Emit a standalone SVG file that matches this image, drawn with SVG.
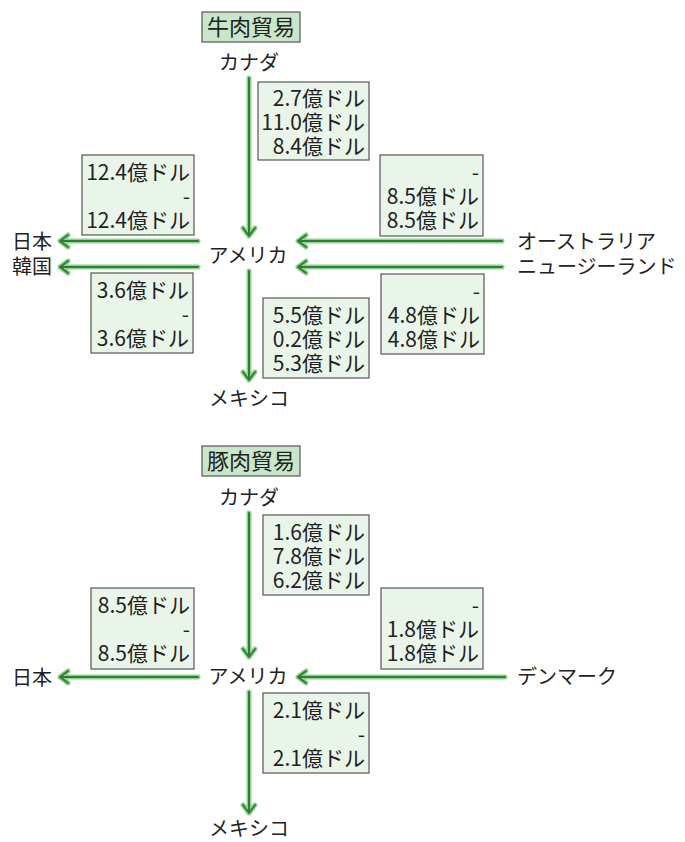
<svg xmlns="http://www.w3.org/2000/svg" width="685" height="842" viewBox="0 0 685 842">
<style>
text{font-family:"Noto Sans CJK JP","Noto Sans",sans-serif;font-size:20px;fill:#222}
.lbl{text-anchor:middle}
.st{text-anchor:start}
.tt{text-anchor:middle;font-size:22px}
.v{text-anchor:end;font-size:21px}
.title{fill:#c8e6c9;stroke:#555;stroke-width:1.2}
.box{fill:#eaf5ea;stroke:#555;stroke-width:1.2}
.halo{fill:none;stroke:#8fd18f;stroke-width:5;stroke-linecap:round;stroke-linejoin:round}
.line{fill:none;stroke:#2e7d32;stroke-width:2;stroke-linecap:round;stroke-linejoin:round}
</style>
<defs>
<path id="c1" d="M249 78V236M243 228L249 236L255 228"/>
<path id="c2" d="M198 241H60M68 235L60 241L68 247"/>
<path id="c3" d="M198 267H60M68 261L60 267L68 273"/>
<path id="c4" d="M502 241H298M306 235L298 241L306 247"/>
<path id="c5" d="M502 267H298M306 261L298 267L306 273"/>
<path id="c6" d="M249 271V380M243 372L249 380L255 372"/>
<path id="c7" d="M249 513V657M243 649L249 657L255 649"/>
<path id="c8" d="M198 677H60M68 671L60 677L68 683"/>
<path id="c9" d="M505 677H298M306 671L298 677L306 683"/>
<path id="c10" d="M249 692V813M243 805L249 813L255 805"/>
</defs>
<g id="connectors">
<use href="#c1" class="halo"/><use href="#c1" class="line"/>
<use href="#c2" class="halo"/><use href="#c2" class="line"/>
<use href="#c3" class="halo"/><use href="#c3" class="line"/>
<use href="#c4" class="halo"/><use href="#c4" class="line"/>
<use href="#c5" class="halo"/><use href="#c5" class="line"/>
<use href="#c6" class="halo"/><use href="#c6" class="line"/>
<use href="#c7" class="halo"/><use href="#c7" class="line"/>
<use href="#c8" class="halo"/><use href="#c8" class="line"/>
<use href="#c9" class="halo"/><use href="#c9" class="line"/>
<use href="#c10" class="halo"/><use href="#c10" class="line"/>
</g>
<!-- Beef -->
<g id="beef-title"><rect class="title" x="202" y="12" width="98" height="30"/><text class="tt" x="251" y="35">牛肉貿易</text></g>
<g id="beef-canada"><text class="lbl" x="249" y="70">カナダ</text></g>
<g id="beef-usa"><text class="lbl" x="248" y="263">アメリカ</text></g>
<g id="beef-japan"><text class="st" x="12" y="249">日本</text></g>
<g id="beef-korea"><text class="st" x="12" y="274">韓国</text></g>
<g id="beef-australia"><text class="st" x="517" y="249">オーストラリア</text></g>
<g id="beef-nz"><text class="st" x="517" y="274">ニュージーランド</text></g>
<g id="beef-mexico"><text class="lbl" x="249" y="406">メキシコ</text></g>
<g id="beef-box-canada"><rect class="box" x="258" y="82" width="111" height="78"/>
<text class="v" y="106"><tspan x="365">2.7億ドル</tspan><tspan x="365" dy="24">11.0億ドル</tspan><tspan x="365" dy="24">8.4億ドル</tspan></text></g>
<g id="beef-box-japan"><rect class="box" x="82" y="155" width="112" height="80"/>
<text class="v" y="180"><tspan x="190">12.4億ドル</tspan><tspan x="190" dy="24">-</tspan><tspan x="190" dy="24">12.4億ドル</tspan></text></g>
<g id="beef-box-australia"><rect class="box" x="380" y="155" width="103" height="81"/>
<text class="v" y="180"><tspan x="479">-</tspan><tspan x="479" dy="24">8.5億ドル</tspan><tspan x="479" dy="24">8.5億ドル</tspan></text></g>
<g id="beef-box-korea"><rect class="box" x="91" y="273" width="102" height="80"/>
<text class="v" y="298"><tspan x="189">3.6億ドル</tspan><tspan x="189" dy="24">-</tspan><tspan x="189" dy="24">3.6億ドル</tspan></text></g>
<g id="beef-box-mexico"><rect class="box" x="263" y="298" width="106" height="80"/>
<text class="v" y="323"><tspan x="365">5.5億ドル</tspan><tspan x="365" dy="24">0.2億ドル</tspan><tspan x="365" dy="24">5.3億ドル</tspan></text></g>
<g id="beef-box-nz"><rect class="box" x="381" y="274" width="103" height="80"/>
<text class="v" y="299"><tspan x="480">-</tspan><tspan x="480" dy="24">4.8億ドル</tspan><tspan x="480" dy="24">4.8億ドル</tspan></text></g>
<!-- Pork -->
<g id="pork-title"><rect class="title" x="202" y="446" width="98" height="30"/><text class="tt" x="251" y="469">豚肉貿易</text></g>
<g id="pork-canada"><text class="lbl" x="249" y="505">カナダ</text></g>
<g id="pork-usa"><text class="lbl" x="248" y="684">アメリカ</text></g>
<g id="pork-japan"><text class="st" x="12" y="685">日本</text></g>
<g id="pork-denmark"><text class="st" x="517" y="684">デンマーク</text></g>
<g id="pork-mexico"><text class="lbl" x="249" y="836">メキシコ</text></g>
<g id="pork-box-canada"><rect class="box" x="263" y="515" width="106" height="80"/>
<text class="v" y="540"><tspan x="365">1.6億ドル</tspan><tspan x="365" dy="24">7.8億ドル</tspan><tspan x="365" dy="24">6.2億ドル</tspan></text></g>
<g id="pork-box-japan"><rect class="box" x="91" y="588" width="103" height="81"/>
<text class="v" y="613"><tspan x="190">8.5億ドル</tspan><tspan x="190" dy="24">-</tspan><tspan x="190" dy="24">8.5億ドル</tspan></text></g>
<g id="pork-box-denmark"><rect class="box" x="381" y="588" width="102" height="81"/>
<text class="v" y="613"><tspan x="479">-</tspan><tspan x="479" dy="24">1.8億ドル</tspan><tspan x="479" dy="24">1.8億ドル</tspan></text></g>
<g id="pork-box-mexico"><rect class="box" x="263" y="693" width="106" height="80"/>
<text class="v" y="718"><tspan x="365">2.1億ドル</tspan><tspan x="365" dy="24">-</tspan><tspan x="365" dy="24">2.1億ドル</tspan></text></g>
</svg>
